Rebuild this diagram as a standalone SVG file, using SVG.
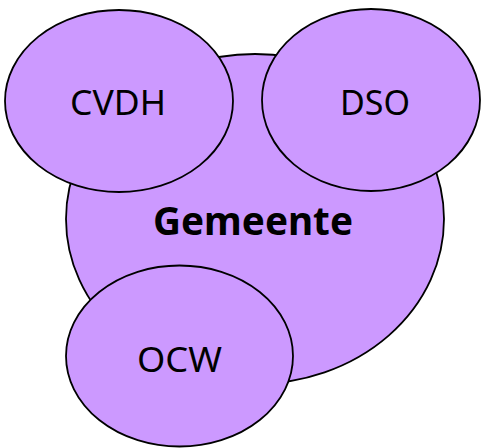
<svg xmlns="http://www.w3.org/2000/svg" width="483" height="448" viewBox="0 0 483 448">
<style>
.n{fill:#CC99FF;stroke:#000;stroke-width:1.8}
.t{font-family:"Noto Sans","Open Sans",sans-serif;font-size:35px;fill:#000;text-anchor:middle}
.b{font-weight:bold;font-size:39px}
</style>
<rect width="483" height="448" fill="#fff"/>
<g id="gemeente">
<ellipse class="n" cx="255" cy="219" rx="189" ry="165"/>
<text class="t b" x="253" y="235" textLength="200" lengthAdjust="spacingAndGlyphs">Gemeente</text>
</g>
<g id="cvdh">
<ellipse class="n" cx="119" cy="101" rx="114" ry="91"/>
<text class="t" x="118" y="115" textLength="96" lengthAdjust="spacingAndGlyphs">CVDH</text>
</g>
<g id="dso">
<ellipse class="n" cx="371" cy="100" rx="109" ry="91"/>
<text class="t" x="375" y="115" textLength="70" lengthAdjust="spacingAndGlyphs">DSO</text>
</g>
<g id="ocw">
<ellipse class="n" cx="179.5" cy="356" rx="113.5" ry="90.5"/>
<text class="t" x="179.5" y="372" textLength="85" lengthAdjust="spacingAndGlyphs">OCW</text>
</g>
<g id="connectors"/>
</svg>
